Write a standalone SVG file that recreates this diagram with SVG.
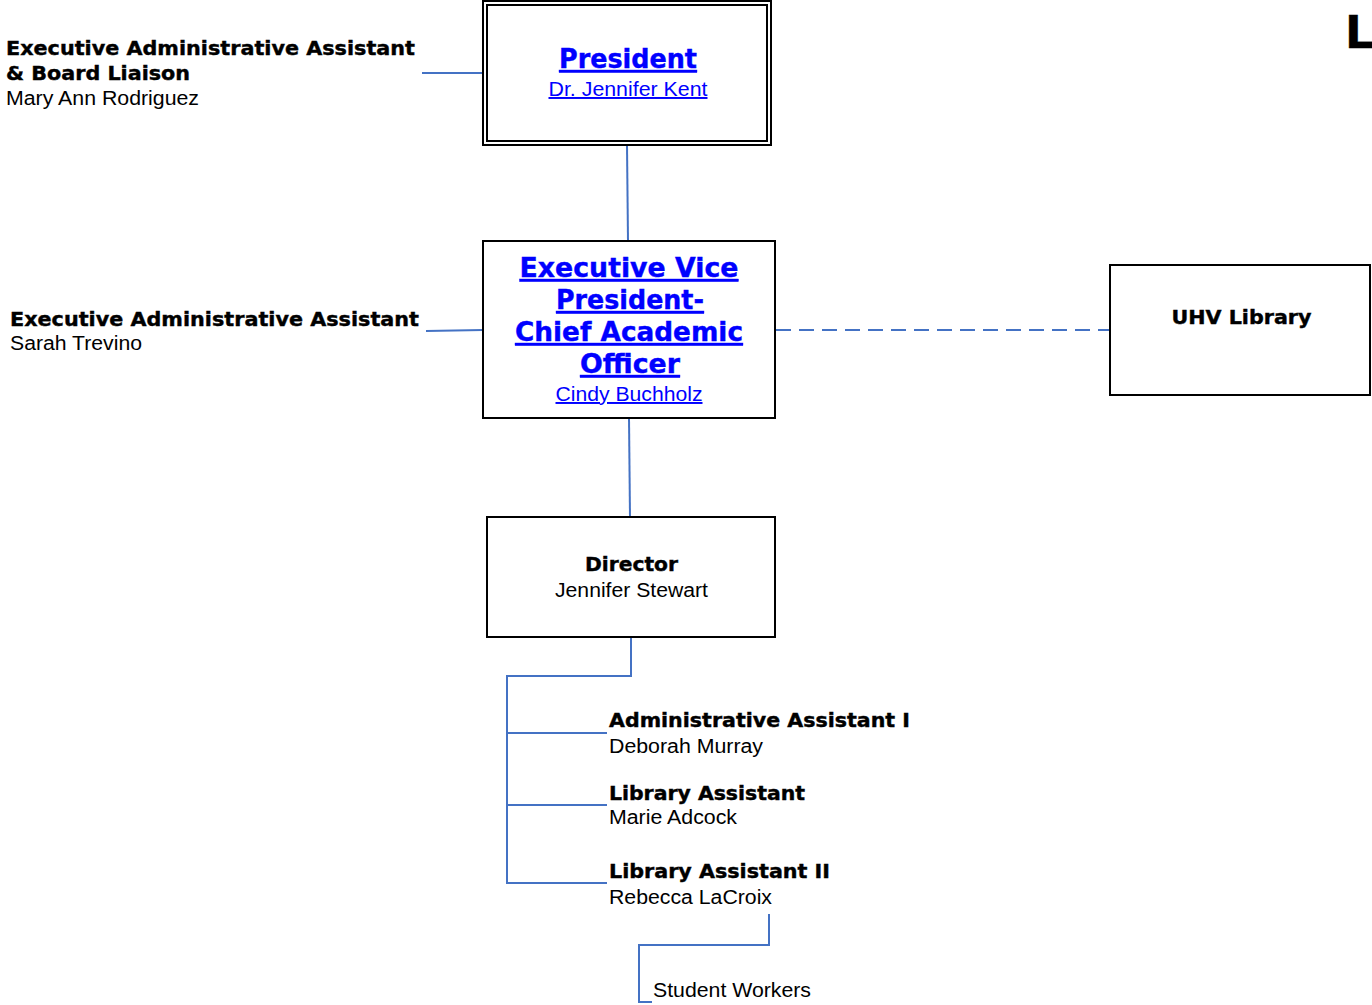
<svg xmlns="http://www.w3.org/2000/svg" width="1372" height="1005" viewBox="0 0 1372 1005">
<style>
.b{font-family:"DejaVu Sans","Liberation Sans",sans-serif;font-weight:bold;fill:#000;stroke:#000;stroke-width:0.4}
.n{font-family:"Liberation Sans",Arial,sans-serif;fill:#000}
.lk{fill:#0000ff;text-decoration:underline}
.b.lk{stroke:#0000ff}
.box{fill:#fff;stroke:#000;stroke-width:2}
.c{fill:none;stroke:#4472c4;stroke-width:2}
</style>
<rect width="1372" height="1005" fill="#fff"/>
<g id="connectors">
<line class="c" x1="422" y1="73" x2="483" y2="73"/>
<line class="c" x1="627" y1="145" x2="628" y2="241"/>
<line class="c" x1="426" y1="331" x2="483" y2="330"/>
<line class="c" x1="776" y1="330" x2="1110" y2="330" stroke-dasharray="15 8"/>
<line class="c" x1="629" y1="418" x2="630" y2="517"/>
<polyline class="c" points="631,637 631,676 507,676 507,883 607,883"/>
<line class="c" x1="507" y1="733" x2="607" y2="733"/>
<line class="c" x1="507" y1="805" x2="607" y2="805"/>
<polyline class="c" points="769,914 769,945 639,945 639,1002 652,1002"/>
</g>
<g id="title"><text class="b" x="1345" y="48" font-size="45">L</text></g>
<g id="president">
<rect class="box" x="483" y="1" width="288" height="144"/>
<rect class="box" x="487" y="5" width="280" height="136"/>
<text class="b lk" x="628" y="68" font-size="26" text-anchor="middle" textLength="138" lengthAdjust="spacingAndGlyphs">President</text>
<text class="n lk" x="628" y="96" font-size="19.5" text-anchor="middle" textLength="159" lengthAdjust="spacingAndGlyphs">Dr. Jennifer Kent</text>
</g>
<g id="ea-board">
<text class="b" x="6" y="55" font-size="19" textLength="409" lengthAdjust="spacingAndGlyphs">Executive Administrative Assistant</text>
<text class="b" x="6" y="80" font-size="19" textLength="184" lengthAdjust="spacingAndGlyphs">&amp; Board Liaison</text>
<text class="n" x="6" y="105" font-size="19.5" textLength="193" lengthAdjust="spacingAndGlyphs">Mary Ann Rodriguez</text>
</g>
<g id="evp">
<rect class="box" x="483" y="241" width="292" height="177"/>
<text class="b lk" x="629" y="277" font-size="26.5" text-anchor="middle" textLength="219" lengthAdjust="spacingAndGlyphs">Executive Vice</text>
<text class="b lk" x="630" y="309" font-size="26.5" text-anchor="middle" textLength="148" lengthAdjust="spacingAndGlyphs">President-</text>
<text class="b lk" x="629" y="341" font-size="26.5" text-anchor="middle" textLength="228" lengthAdjust="spacingAndGlyphs">Chief Academic</text>
<text class="b lk" x="630" y="373" font-size="26.5" text-anchor="middle" textLength="100" lengthAdjust="spacingAndGlyphs">Officer</text>
<text class="n lk" x="629" y="401" font-size="19.5" text-anchor="middle" textLength="147" lengthAdjust="spacingAndGlyphs">Cindy Buchholz</text>
</g>
<g id="ea-evp">
<text class="b" x="10" y="326" font-size="19" textLength="409" lengthAdjust="spacingAndGlyphs">Executive Administrative Assistant</text>
<text class="n" x="10" y="350" font-size="19.5" textLength="132" lengthAdjust="spacingAndGlyphs">Sarah Trevino</text>
</g>
<g id="uhv-library">
<rect class="box" x="1110" y="265" width="260" height="130"/>
<text class="b" x="1241.5" y="324" font-size="19" text-anchor="middle" textLength="140" lengthAdjust="spacingAndGlyphs">UHV Library</text>
</g>
<g id="director">
<rect class="box" x="487" y="517" width="288" height="120"/>
<text class="b" x="631.5" y="571" font-size="19" text-anchor="middle" textLength="93" lengthAdjust="spacingAndGlyphs">Director</text>
<text class="n" x="631.5" y="597" font-size="19.5" text-anchor="middle" textLength="153" lengthAdjust="spacingAndGlyphs">Jennifer Stewart</text>
</g>
<g id="admin-assistant">
<text class="b" x="609" y="727" font-size="19" textLength="301" lengthAdjust="spacingAndGlyphs">Administrative Assistant I</text>
<text class="n" x="609" y="753" font-size="19.5" textLength="154" lengthAdjust="spacingAndGlyphs">Deborah Murray</text>
</g>
<g id="library-assistant">
<text class="b" x="609" y="800" font-size="19" textLength="196" lengthAdjust="spacingAndGlyphs">Library Assistant</text>
<text class="n" x="609" y="824" font-size="19.5" textLength="128" lengthAdjust="spacingAndGlyphs">Marie Adcock</text>
</g>
<g id="library-assistant-2">
<text class="b" x="609" y="878" font-size="19" textLength="221" lengthAdjust="spacingAndGlyphs">Library Assistant II</text>
<text class="n" x="609" y="904" font-size="19.5" textLength="163" lengthAdjust="spacingAndGlyphs">Rebecca LaCroix</text>
</g>
<g id="student-workers">
<text class="n" x="653" y="997" font-size="19.5" textLength="158" lengthAdjust="spacingAndGlyphs">Student Workers</text>
</g>
</svg>
